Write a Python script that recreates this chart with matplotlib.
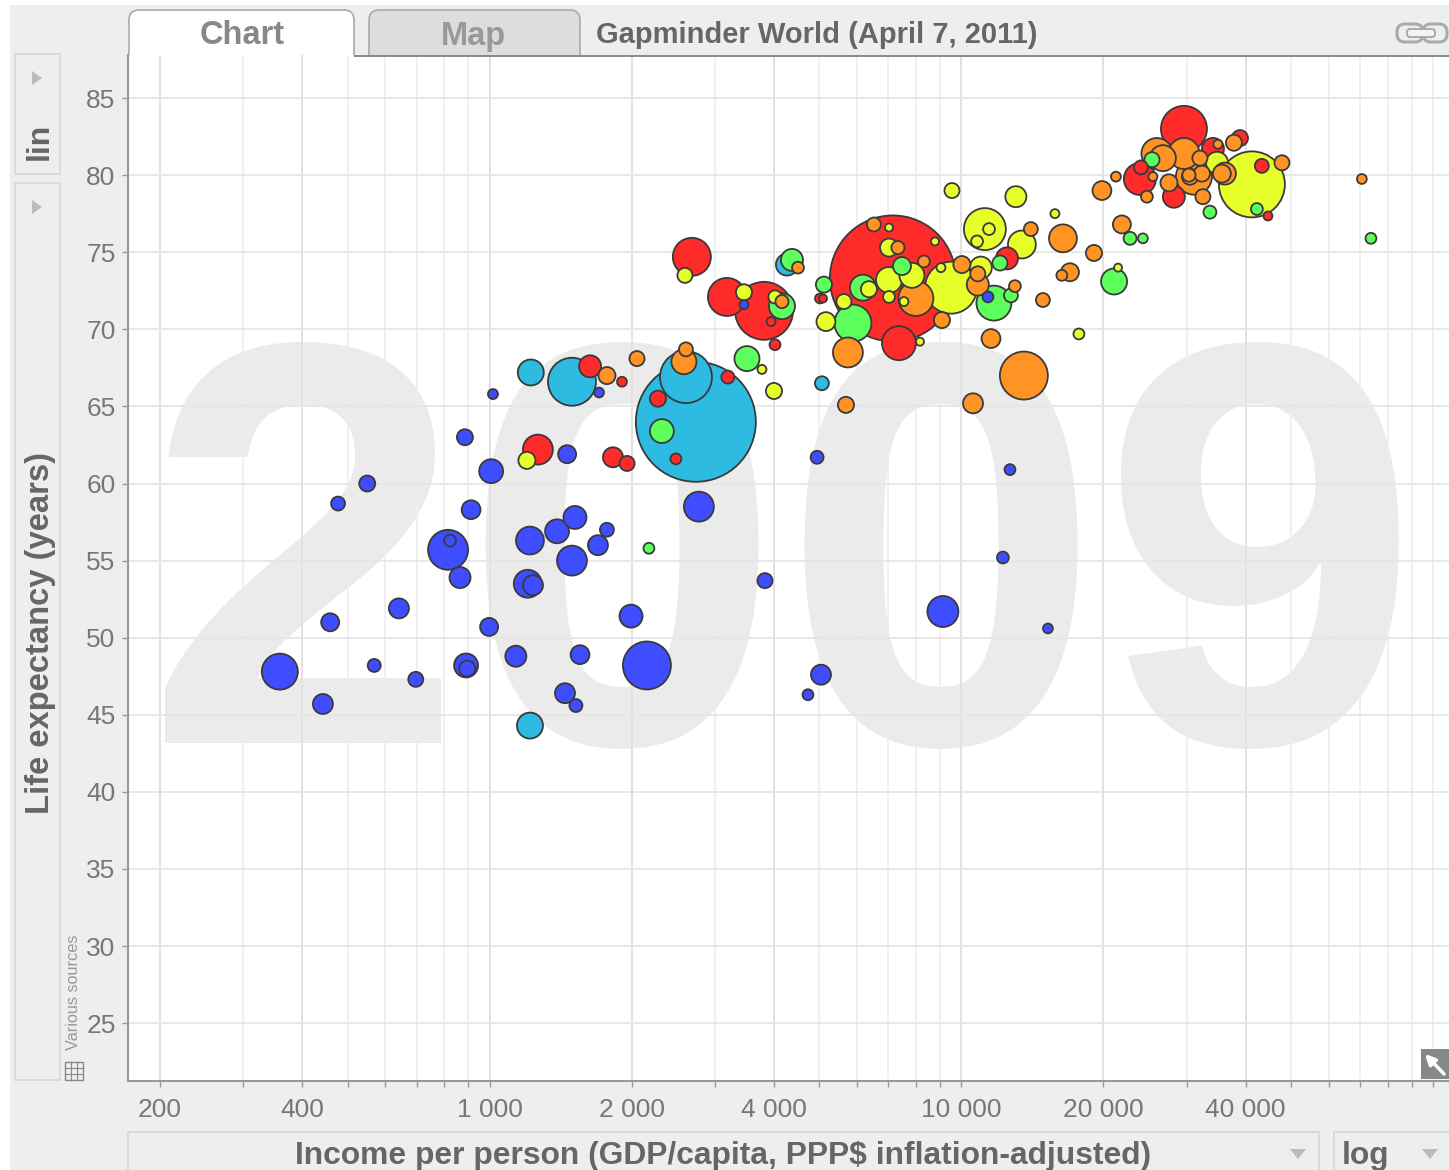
import matplotlib

matplotlib.use("Agg")

import matplotlib.pyplot as plt
import numpy as np
from matplotlib.patches import FancyBboxPatch, Polygon, Rectangle

plt.rcParams["font.family"] = ["Liberation Sans", "DejaVu Sans"]

WIDTH = 1449
HEIGHT = 1170

# income per person, life expectancy, population in millions
africa_income = [359, 443, 569, 697, 459, 642, 477, 550, 886, 1016, 1007, 913, 816, 824, 865,
                 997, 891, 896, 1136, 1204, 1235, 1217, 1389, 1516, 1494, 1696, 1772, 1993,
                 1554, 2154, 1444, 1523, 1459, 2776, 3832, 4727, 5037, 4942, 9134, 12240,
                 12670, 15250, 1705, 3459, 11380]
africa_life = [47.8, 45.7, 48.2, 47.3, 51.0, 51.9, 58.7, 60.0, 63.0, 65.8, 60.8, 58.3, 55.7,
               56.3, 53.9, 50.7, 48.2, 48.0, 48.8, 53.5, 53.4, 56.3, 56.9, 57.8, 55.0, 56.0,
               57.0, 51.4, 48.9, 48.2, 46.4, 45.6, 61.9, 58.5, 53.7, 46.3, 47.6, 61.7, 51.7,
               55.2, 60.9, 50.6, 65.9, 71.6, 72.1]
africa_pop = [120, 37, 15.6, 20.8, 30, 37, 18, 23.7, 23.7, 9.25, 53, 33, 148, 13, 41, 30, 53, 24,
              41, 72, 37, 72, 53, 49, 83, 37, 18, 49, 33, 213, 37, 15.6, 30, 83, 21, 11, 37,
              15.6, 89, 13, 11, 9, 9, 7.5, 11]

south_asia_income = [2735, 1494, 2606, 1222, 1217, 4267, 5060]
south_asia_life = [64.0, 66.6, 66.9, 67.2, 44.3, 74.2, 66.5]
south_asia_pop = [1332, 213, 250, 62.5, 62.5, 45, 18]

east_asia_income = [7154, 2682, 3183, 3815, 3947, 4024, 5012, 5087, 7370, 12485, 1632, 1907, 1265,
                    1825, 1955, 2273, 2481, 3197, 29620, 23890, 24010, 28200, 34120, 38930,
                    43320, 44630]
east_asia_life = [73.3, 74.7, 72.1, 71.2, 70.5, 69.0, 72.0, 72.0, 69.1, 74.6, 67.6, 66.6, 62.2,
                  61.7, 61.3, 65.5, 61.6, 66.9, 83.0, 79.75, 80.5, 78.6, 81.7, 82.4, 80.6, 77.35]
east_asia_pop = [1469, 134, 134, 311, 7.5, 11, 9, 6, 107, 45, 45, 9, 83, 37, 21, 24, 11, 15.6, 196,
                 95, 18, 45, 45, 24, 18, 7.5]

middle_east_income = [4372, 4164, 3510, 5110, 5887, 6182, 7479, 12066, 11716, 12730, 2317, 2175,
                      25340, 33620, 42290, 22770, 24240, 21060, 73780]
middle_east_life = [74.5, 71.5, 68.1, 72.9, 70.4, 72.7, 74.1, 74.3, 71.7, 72.2, 63.4, 55.8, 81.0,
                    77.6, 77.8, 75.9, 75.9, 73.1, 75.9]
middle_east_pop = [45, 62.5, 58, 24, 127, 62.5, 30, 21, 113, 18, 53, 11, 21, 15.6, 13, 15.6, 9,
                   62.5, 11]

america_income = [2593, 3459, 4024, 5160, 5634, 6365, 7021, 7850, 7021, 7021, 8787, 7021, 7552,
                  9047, 9500, 10990, 8165, 3776, 4004, 9547, 13040, 11210, 11440, 10790, 13430,
                  15780, 1199, 41270, 21470, 17740, 34810]
america_life = [73.5, 72.4, 72.1, 70.5, 71.8, 72.6, 73.2, 73.5, 75.3, 76.6, 75.7, 72.1, 71.8, 74.0,
                72.7, 74.0, 69.2, 67.4, 66.0, 79.0, 78.6, 76.5, 76.5, 75.7, 75.5, 77.5, 61.5,
                79.4, 74.0, 69.7, 80.8]
america_pop = [21, 24, 16, 33, 21, 24, 62.5, 58, 30, 6, 6, 13, 7.5, 7.5, 250, 45, 6, 7.5, 24, 21,
               41, 163, 13, 13, 72, 7.5, 27, 403, 6, 11, 45]

europe_income = [2052, 1772, 2580, 2606, 4502, 4164, 6520, 7334, 8325, 10020, 10830, 10830, 8005,
                 9090, 5745, 11550, 12980, 14880, 14030, 13560, 16410, 10580, 5690, 19090, 16980,
                 16320, 19850, 21250, 21880, 25960, 26730, 29620, 32020, 31100, 27530, 25460,
                 24720, 30500, 30350, 32330, 32490, 35640, 36170, 34960, 37800, 47790, 70580]
europe_life = [68.1, 67.0, 67.9, 68.7, 74.0, 71.8, 76.8, 75.3, 74.4, 74.2, 73.6, 72.9, 72.0, 70.6,
               68.5, 69.4, 72.8, 71.9, 76.5, 67.0, 75.9, 65.2, 65.1, 74.95, 73.7, 73.5, 79.0,
               79.9, 76.8, 81.4, 81.1, 81.4, 81.1, 79.9, 79.5, 79.9, 78.6, 79.9, 80.0, 80.1, 78.6,
               80.1, 80.1, 82.0, 82.1, 80.8, 79.75]
europe_pop = [21, 27, 58, 18, 13, 16, 18, 16, 13, 27, 21, 45, 113, 24, 83, 33, 13, 18, 18, 213, 72,
              37, 24, 24, 30, 11, 33, 9, 30, 89, 62.5, 89, 21, 120, 27, 7.5, 13, 24, 16, 24, 21,
              30, 45, 7.5, 24, 21, 9]

regions = [
    (africa_income, africa_life, africa_pop, "#3D4DFF"),
    (south_asia_income, south_asia_life, south_asia_pop, "#2DBBE2"),
    (east_asia_income, east_asia_life, east_asia_pop, "#FF2A2A"),
    (middle_east_income, middle_east_life, middle_east_pop, "#5CFF5C"),
    (america_income, america_life, america_pop, "#E6FF2A"),
    (europe_income, europe_life, europe_pop, "#FF9424"),
]

x_major = [200, 400, 1000, 2000, 4000, 10000, 20000, 40000]
x_labels = ["200", "400", "1 000", "2 000", "4 000", "10 000", "20 000", "40 000"]
x_minor = [300, 500, 600, 700, 800, 900, 3000, 5000, 6000, 7000, 8000, 9000, 30000, 50000, 60000,
           70000, 80000, 90000, 100000]
y_ticks = [25, 30, 35, 40, 45, 50, 55, 60, 65, 70, 75, 80, 85]

fig = plt.figure(figsize=(WIDTH / 100, HEIGHT / 100), dpi=100, facecolor="white")


def pixel_axes(zorder):
    pax = fig.add_axes([0, 0, 1, 1], zorder=zorder)
    pax.set_xlim(0, WIDTH)
    pax.set_ylim(HEIGHT, 0)
    pax.axis("off")
    return pax


# grey page and the tabs go under the plot area, so the plot hides the tab bottoms
back = pixel_axes(-1)
back.add_patch(Rectangle((10, 5), WIDTH, HEIGHT, facecolor="#EEEEEE", edgecolor="none"))
for x0, x1, face in [(369, 580, "#DDDDDD"), (129, 354, "white")]:
    back.add_patch(FancyBboxPatch((x0, 10), x1 - x0, 70, boxstyle="round,pad=0,rounding_size=10",
                                  facecolor=face, edgecolor="#AAAAAA", linewidth=1.2))

# main plot area
ax = fig.add_axes([128 / WIDTH, 1 - 1081 / HEIGHT, (WIDTH - 128) / WIDTH, (1081 - 55) / HEIGHT])
ax.set_xscale("log")
ax.set_xlim(171.1, 108000)
ax.set_ylim(21.25, 87.79)
ax.set_xticks(x_major, x_labels)
ax.set_xticks(x_minor, [""] * len(x_minor), minor=True)
ax.set_yticks(y_ticks)
ax.set_axisbelow(True)
ax.grid(True, which="major", axis="x", color="#E2E2E2", linewidth=1.4)
ax.grid(True, which="minor", axis="x", color="#EEEEEE", linewidth=1.2)
ax.grid(True, which="major", axis="y", color="#E6E6E6", linewidth=1.3)
for name in ["top", "right"]:
    ax.spines[name].set_visible(False)
for name in ["left", "bottom"]:
    ax.spines[name].set_color("#999999")
    ax.spines[name].set_linewidth(1.5)
ax.tick_params(axis="both", which="both", length=4, width=1, color="#999999",
               labelcolor="#777777", labelsize=19)
ax.tick_params(axis="x", which="major", pad=8)
ax.tick_params(axis="y", pad=5)

# big year behind the bubbles
ax.text((782 - 128) / (WIDTH - 128), (1081 - 743) / (1081 - 55), "2009",
        transform=ax.transAxes, ha="center", va="baseline", fontsize=413, fontweight="bold",
        color="#EBEBEB", zorder=0.2)

income = np.concatenate([r[0] for r in regions])
life = np.concatenate([r[1] for r in regions])
pop = np.concatenate([r[2] for r in regions])
colors = np.concatenate([[r[3]] * len(r[0]) for r in regions])
order = np.argsort(-pop, kind="stable")
ax.scatter(income[order], life[order], s=pop[order] * 5.6, c=colors[order],
           edgecolors="#3A3A3A", linewidths=1.3, zorder=3)

# widgets around the chart, in pixel coordinates
ui = pixel_axes(3)


def add_box(x0, y0, x1, y1):
    ui.add_patch(Rectangle((x0, y0), x1 - x0, y1 - y0, facecolor="#EEEEEE", edgecolor="#D6D6D6",
                           linewidth=1.2))


def add_triangle(points):
    ui.add_patch(Polygon(points, closed=True, facecolor="#BBBBBB", edgecolor="none"))


ui.plot([354, WIDTH], [55.5, 55.5], color="#888888", linewidth=1.4, solid_capstyle="butt")
ui.text(242, 36, "Chart", ha="center", va="center", fontsize=23.5, fontweight="bold", color="#888888")
ui.text(473, 36, "Map", ha="center", va="center", fontsize=23.5, fontweight="bold", color="#999999")
ui.text(596, 35, "Gapminder World (April 7, 2011)", ha="left", va="center", fontsize=21,
        fontweight="bold", color="#666666")

# link icon, top right
for x0, x1 in [(1397, 1423), (1423, 1447)]:
    ui.add_patch(FancyBboxPatch((x0, 24), x1 - x0, 18, boxstyle="round,pad=0,rounding_size=8",
                                facecolor="none", edgecolor="#AAAAAA", linewidth=2.2))
ui.add_patch(FancyBboxPatch((1407, 29), 28, 8, boxstyle="round,pad=0,rounding_size=3",
                            facecolor="#F4F4F4", edgecolor="#AAAAAA", linewidth=1.4))

# y axis controls
add_box(15, 54, 60, 174)
add_box(15, 183, 60, 1080)
add_triangle([(32, 71), (32, 85), (42, 78)])
add_triangle([(32, 200), (32, 214), (42, 207)])
ui.text(40, 141, "lin", rotation=90, ha="center", va="center", fontsize=23, fontweight="bold",
        color="#666666")
ui.text(41, 633, "Life expectancy (years)", rotation=90, ha="center", va="center", fontsize=23.6,
        fontweight="bold", color="#666666")
ui.text(73, 992, "Various sources", rotation=90, ha="center", va="center", fontsize=11.7,
        color="#999999")

# small table icon
ui.add_patch(Rectangle((65, 1062), 18, 18, facecolor="none", edgecolor="#888888", linewidth=1.0))
for offset in [6, 12]:
    ui.plot([65 + offset, 65 + offset], [1062, 1080], color="#888888", linewidth=0.8)
    ui.plot([65, 83], [1062 + offset, 1062 + offset], color="#888888", linewidth=0.8)

# x axis controls
add_box(128, 1132, 1319, 1175)
add_box(1334, 1132, 1455, 1175)
ui.text(723, 1156, "Income per person (GDP/capita, PPP$ inflation-adjusted)", ha="center", va="center",
        fontsize=22.9, fontweight="bold", color="#666666")
ui.text(1366, 1156, "log", ha="center", va="center", fontsize=22.9, fontweight="bold", color="#666666")
add_triangle([(1290, 1149), (1306, 1149), (1298, 1159)])
add_triangle([(1422, 1149), (1438, 1149), (1430, 1159)])

# expand button, bottom right
ui.add_patch(Rectangle((1421, 1049), 28, 30, facecolor="#888888", edgecolor="none"))
ui.annotate("", xy=(1425, 1054), xytext=(1444, 1074),
            arrowprops=dict(arrowstyle="-|>", color="white", linewidth=2.5, mutation_scale=15,
                            shrinkA=0, shrinkB=0))

fig.savefig("out.png", dpi=100)
